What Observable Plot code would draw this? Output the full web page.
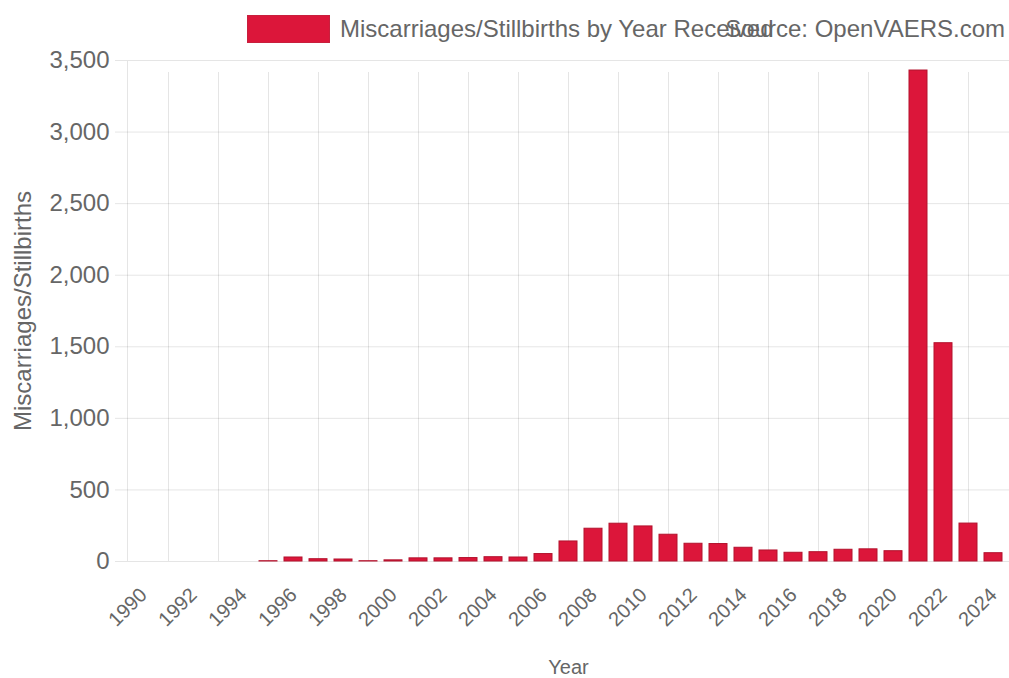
<!DOCTYPE html>
<html>
<head>
<meta charset="utf-8">
<script src="https://cdn.jsdelivr.net/npm/d3@7"></script>
<script src="https://cdn.jsdelivr.net/npm/@observablehq/plot@0.6"></script>
<style>
  html, body { margin: 0; padding: 0; background: #fff; }
  #wrap { position: relative; width: 1009px; height: 678px; overflow: hidden; font-family: "Liberation Sans", Arial, sans-serif; }
  #legend { position: absolute; left: 0; top: 0; width: 1009px; height: 50px; z-index: 2; }
  #swatch { position: absolute; left: 247px; top: 15px; width: 81px; height: 26px; background: #dc163a; border: 1px solid #c8203d; }
  #legtext { position: absolute; left: 340px; top: 15px; font-size: 24px; line-height: 28px; color: #666; white-space: nowrap; }
  #source { position: absolute; right: 4px; top: 15px; font-size: 24px; line-height: 28px; color: #666; white-space: nowrap; }
</style>
</head>
<body>
<div id="wrap">
  <div id="legend">
    <div id="swatch"></div>
    <div id="source"></div>
    <div id="legtext"></div>
  </div>
  <div id="chart"></div>
</div>
<script>
const years = [1990,1991,1992,1993,1994,1995,1996,1997,1998,1999,2000,2001,2002,2003,2004,2005,2006,2007,2008,2009,2010,2011,2012,2013,2014,2015,2016,2017,2018,2019,2020,2021,2022,2023,2024];
const counts = [0,0,0,0,0,2,28,16,14,2,8,22,22,24,30,28,52,140,229,264,245,187,124,122,96,77,61,65,82,85,72,3430,1525,265,58];
const xTickYears = [1990,1992,1994,1996,1998,2000,2002,2004,2006,2008,2010,2012,2014,2016,2018,2020,2022,2024];
const gridYears = [1991,1993,1995,1997,1999,2001,2003,2005,2007,2009,2011,2013,2015,2017,2019,2021,2023];
const yTicks = [0,500,1000,1500,2000,2500,3000,3500];
const yGrid = [500,1000,1500,2000,2500,3000];
const seriesLabel = "Miscarriages/Stillbirths by Year Received";
const sourceLabel = "Source: OpenVAERS.com";
const yTitle = "Miscarriages/Stillbirths";
const xTitle = "Year";

document.getElementById("legtext").textContent = seriesLabel;
document.getElementById("source").textContent = sourceLabel;

const data = years.map((year, i) => ({year, count: counts[i]}));

const chart = Plot.plot({
  width: 1009,
  height: 678,
  marginTop: 60,
  marginBottom: 117,
  marginLeft: 127,
  marginRight: 0,
  style: {fontFamily: "'Liberation Sans', Arial, sans-serif", background: "white", color: "#666"},
  x: {type: "band", domain: years, paddingInner: 0.28, paddingOuter: 0.14, align: 0.5},
  y: {domain: [0, 3500]},
  marks: [
    Plot.frame({stroke: "#000", strokeOpacity: 0.1}),
    Plot.gridY(yGrid, {stroke: "#000", strokeOpacity: 0.1}),
    Plot.ruleX(gridYears, {y1: 0, y2: 3500, insetBottom: -12, stroke: "#000", strokeOpacity: 0.1}),
    Plot.barY(data, {x: "year", y: "count", fill: "#dc163a", stroke: "#b3122d", strokeWidth: 1}),
    Plot.axisY(yTicks, {
      tickSize: 12, tickPadding: 6, stroke: "#000", strokeOpacity: 0.1, fill: "#666",
      tickFormat: d3.format(","), fontSize: 24,
      label: yTitle, labelArrow: false, labelAnchor: "center", labelOffset: 114
    }),
    Plot.axisX(xTickYears, {
      tickSize: 0, tickPadding: 30, tickRotate: -45, fontSize: 20, fill: "#666",
      tickFormat: d => String(d),
      label: xTitle, labelArrow: false, labelAnchor: "center", labelOffset: 112
    })
  ]
});
document.getElementById("chart").appendChild(chart);
</script>
</body>
</html>
